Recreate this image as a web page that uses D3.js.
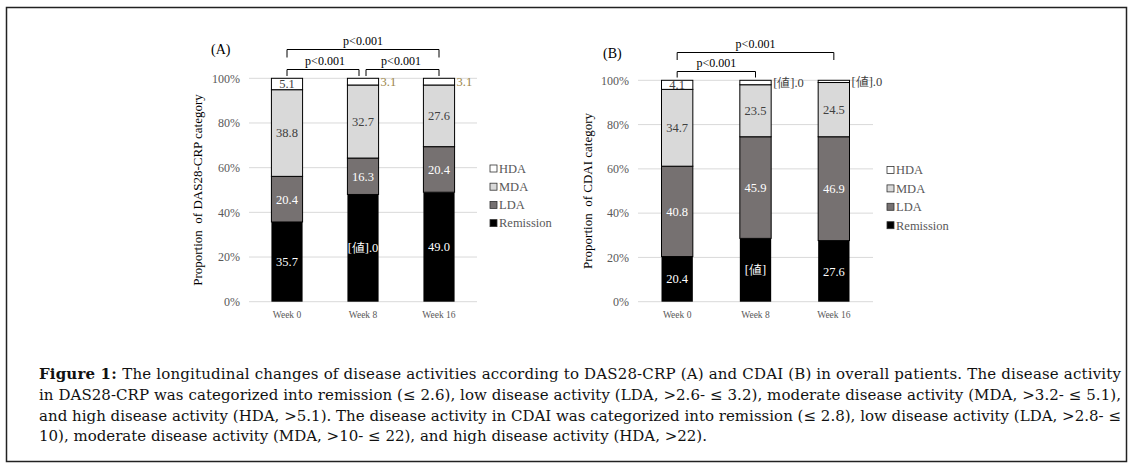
<!DOCTYPE html>
<html>
<head>
<meta charset="utf-8">
<script src="https://cdn.jsdelivr.net/npm/d3@7"></script>
<style>
  body { margin: 0; background: #fff; }
  svg text { font-family: "Liberation Serif", "Times New Roman", serif; }
</style>
</head>
<body>
<div id="chart"></div>
<script>

// categories and series values

var weeks = ["Week 0", "Week 8", "Week 16"];
var categories = ["Remission", "LDA", "MDA", "HDA"];
var legendOrder = ["HDA", "MDA", "LDA", "Remission"];
var yTicks = [0, 20, 40, 60, 80, 100];

var dasRemission = [35.7, 48.0, 49.0];
var dasLDA = [20.4, 16.3, 20.4];
var dasMDA = [38.8, 32.7, 27.6];
var dasHDA = [5.1, 3.1, 3.1];

var cdaiRemission = [20.4, 28.6, 27.6];
var cdaiLDA = [40.8, 45.9, 46.9];
var cdaiMDA = [34.7, 23.5, 24.5];
var cdaiHDA = [4.1, 2.0, 1.0];

// label texts as printed in the figure (some are broken field codes)

var dasLabelRemission = ["35.7", "[値].0", "49.0"];
var dasLabelHDA = ["5.1", "3.1", "3.1"];
var cdaiLabelRemission = ["20.4", "[値]", "27.6"];
var cdaiLabelHDA = ["4.1", "[値].0", "[値].0"];

var pLabels = ["p<0.001", "p<0.001", "p<0.001"];

var captionLines = [
	"The longitudinal changes of disease activities according to DAS28-CRP (A) and CDAI (B) in overall patients. The disease activity",
	"in DAS28-CRP was categorized into remission (≤ 2.6), low disease activity (LDA, >2.6- ≤ 3.2), moderate disease activity (MDA, >3.2- ≤ 5.1),",
	"and high disease activity (HDA, >5.1). The disease activity in CDAI was categorized into remission (≤ 2.8), low disease activity (LDA, >2.8- ≤",
	"10), moderate disease activity (MDA, >10- ≤ 22), and high disease activity (HDA, >22)."
];
var captionWidths = [1082, 1082, 1082, 668];

var fills = { Remission: "#000000", LDA: "#767171", MDA: "#d9d9d9", HDA: "#ffffff" };
var labelColors = { Remission: "#ffffff", LDA: "#ffffff", MDA: "#404040", HDA: "#404040" };

var svg = d3.select("#chart").append("svg")
	.attr("width", 1134)
	.attr("height", 469);

// frame round the figure

svg.append("rect")
	.attr("x", 6.5).attr("y", 7.5)
	.attr("width", 1120).attr("height", 454)
	.attr("fill", "none")
	.attr("stroke", "#222")
	.attr("stroke-width", 1.5);

function drawPanel(opt) {

	var rows = weeks.map(function(w, i) {
		return {
			week: w,
			Remission: opt.rem[i],
			LDA: opt.lda[i],
			MDA: opt.mda[i],
			HDA: opt.hda[i],
			labels: { Remission: opt.remLabel[i], LDA: opt.lda[i].toFixed(1), MDA: opt.mda[i].toFixed(1), HDA: opt.hdaLabel[i] }
		};
	});

	var x = d3.scaleBand()
		.domain(weeks)
		.range(opt.xRange)
		.paddingInner(opt.padInner)
		.paddingOuter(opt.padInner / 2);

	var y = d3.scaleLinear()
		.domain([0, 100])
		.range(opt.yRange)
		.clamp(true);

	var g = svg.append("g");

	// gridlines

	g.selectAll(".grid")
		.data(yTicks)
		.enter()
		.append("line")
		.attr("x1", opt.xRange[0]).attr("x2", opt.xRange[1])
		.attr("y1", d => y(d)).attr("y2", d => y(d))
		.attr("stroke", "#d9d9d9")
		.attr("stroke-width", 1);

	// y tick labels

	g.selectAll(".ytick")
		.data(yTicks)
		.enter()
		.append("text")
		.attr("x", opt.xRange[0] - 9)
		.attr("y", d => y(d))
		.attr("dy", "0.35em")
		.attr("text-anchor", "end")
		.attr("fill", "#595959")
		.style("font-size", "12px")
		.text(d => d + "%");

	// x tick labels

	g.selectAll(".xtick")
		.data(weeks)
		.enter()
		.append("text")
		.attr("x", d => x(d) + x.bandwidth() / 2)
		.attr("y", opt.yRange[0] + 16)
		.attr("text-anchor", "middle")
		.attr("fill", "#595959")
		.style("font-size", "9.5px")
		.text(d => d);

	// stacked bars

	var stacked = d3.stack().keys(categories)(rows);

	var layers = g.selectAll(".layer")
		.data(stacked)
		.enter()
		.append("g");

	layers.selectAll("rect")
		.data(d => d.map(p => ({ key: d.key, p: p })))
		.enter()
		.append("rect")
		.attr("x", d => x(d.p.data.week))
		.attr("width", x.bandwidth())
		.attr("y", d => y(d.p[1]))
		.attr("height", d => y(d.p[0]) - y(d.p[1]))
		.attr("fill", d => fills[d.key])
		.attr("stroke", d => d.key === "Remission" ? "none" : "#000")
		.attr("stroke-width", 1);

	// segment labels

	layers.selectAll("text")
		.data(d => d.map(p => ({ key: d.key, p: p })))
		.enter()
		.append("text")
		.attr("x", function(d) {
			var outside = d.key === "HDA" && (d.p[1] - d.p[0]) < 4;
			return outside ? x(d.p.data.week) + x.bandwidth() + 2 : x(d.p.data.week) + x.bandwidth() / 2;
		})
		.attr("y", d => (y(d.p[0]) + y(d.p[1])) / 2)
		.attr("dy", "0.35em")
		.attr("text-anchor", d => (d.key === "HDA" && (d.p[1] - d.p[0]) < 4) ? "start" : "middle")
		.attr("fill", function(d) {
			if (d.key === "HDA" && (d.p[1] - d.p[0]) < 4) return opt.outsideColor;
			return labelColors[d.key];
		})
		.style("font-size", "12.5px")
		.text(d => d.p.data.labels[d.key]);

	// legend

	var legend = g.selectAll(".legend")
		.data(legendOrder)
		.enter()
		.append("g")
		.attr("transform", (d, i) => `translate(${opt.legendX}, ${opt.legendY + i * opt.legendStep})`);

	legend.append("rect")
		.attr("x", 0).attr("y", -3.5)
		.attr("width", 7).attr("height", 7)
		.attr("fill", d => fills[d])
		.attr("stroke", "#333")
		.attr("stroke-width", 0.8);

	legend.append("text")
		.attr("x", 9)
		.attr("y", 0)
		.attr("dy", "0.35em")
		.attr("fill", "#595959")
		.style("font-size", "12.5px")
		.text(d => d);

	// y axis title

	g.append("text")
		.attr("transform", `translate(${opt.titleX}, ${(opt.yRange[0] + opt.yRange[1]) / 2}) rotate(-90)`)
		.attr("text-anchor", "middle")
		.attr("fill", "#000")
		.style("font-size", "13px")
		.style("white-space", "pre")
		.text(opt.title);

	// panel letter

	g.append("text")
		.attr("x", opt.letterX)
		.attr("y", opt.letterY)
		.style("font-size", "14px")
		.text(opt.letter);

	// significance brackets

	opt.brackets.forEach(function(b, i) {
		var x1 = x(weeks[b.from]) + x.bandwidth() / 2;
		var x2 = x(weeks[b.to]) + x.bandwidth() / 2;
		g.append("path")
			.attr("d", `M${x1 + (b.dx1 || 0)},${b.y + b.drop} V${b.y} H${x2 + (b.dx2 || 0)} V${b.y + b.drop}`)
			.attr("fill", "none")
			.attr("stroke", "#000")
			.attr("stroke-width", 1);
		g.append("text")
			.attr("x", (x1 + x2) / 2)
			.attr("y", b.y - 5)
			.attr("text-anchor", "middle")
			.style("font-size", "12px")
			.text(pLabels[i]);
	});
}

drawPanel({
	rem: dasRemission, lda: dasLDA, mda: dasMDA, hda: dasHDA,
	remLabel: dasLabelRemission, hdaLabel: dasLabelHDA,
	xRange: [249, 477], yRange: [301.7, 78.3], padInner: 0.59,
	legendX: 490, legendY: 168.5, legendStep: 18.2,
	titleX: 202, title: "Proportion  of DAS28-CRP category",
	letter: "(A)", letterX: 211, letterY: 54,
	outsideColor: "#9c8548",
	brackets: [
		{ from: 0, to: 2, y: 49.5, drop: 8 },
		{ from: 0, to: 1, y: 69.5, drop: 6.5, dx2: -4 },
		{ from: 1, to: 2, y: 69.5, drop: 6.5, dx1: 3 }
	]
});

drawPanel({
	rem: cdaiRemission, lda: cdaiLDA, mda: cdaiMDA, hda: cdaiHDA,
	remLabel: cdaiLabelRemission, hdaLabel: cdaiLabelHDA,
	xRange: [638, 873], yRange: [301.7, 80.3], padInner: 0.6,
	legendX: 887, legendY: 170, legendStep: 18.4,
	titleX: 592, title: "Proportion  of CDAI category",
	letter: "(B)", letterX: 603, letterY: 58,
	outsideColor: "#404040",
	brackets: [
		{ from: 0, to: 2, y: 52.5, drop: 7.5 },
		{ from: 0, to: 1, y: 71.5, drop: 6 }
	]
});

// caption below the charts, each line stretched to the width it has in the figure

var caption = svg.append("g").attr("transform", "translate(39, 0)");

var lines = caption.selectAll("text")
	.data(captionLines)
	.enter()
	.append("text")
	.attr("x", 0)
	.attr("y", (d, i) => 379 + i * 20.8)
	.style("font-family", "'DejaVu Serif', serif")
	.style("font-size", "15px")
	.attr("fill", "#111")
	.attr("textLength", (d, i) => captionWidths[i])
	.attr("lengthAdjust", "spacing");

lines.filter((d, i) => i === 0)
	.append("tspan")
	.style("font-weight", "bold")
	.text("Figure 1: ");

lines.append("tspan").text(d => d);

</script>
</body>
</html>
